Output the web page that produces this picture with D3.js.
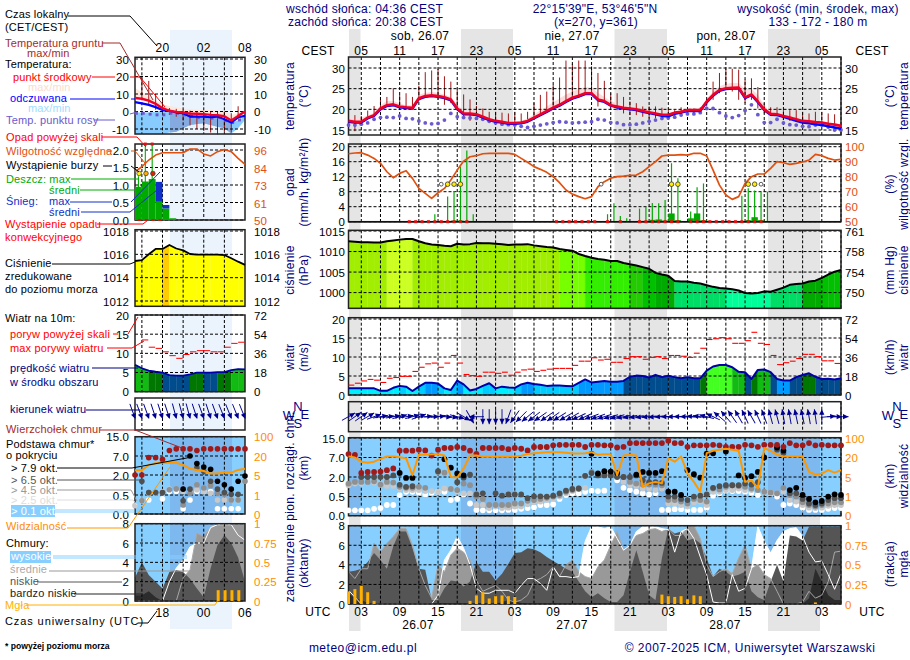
<!DOCTYPE html>
<html><head><meta charset="utf-8">
<script src="https://cdn.jsdelivr.net/npm/d3@7"></script>
<style>html,body{margin:0;padding:0;background:#fff}svg{display:block}text{font-family:"Liberation Sans",Arial,sans-serif;font-size:12px;letter-spacing:.25px}</style>
</head><body><div id="c"></div>
<script>
// ---------- main meteogram: hourly, index 0 = 26.07 01 UTC ----------
const tempMean=[17.2,17,17,18,18.6,20.2,21,21.2,20.7,20.5,20.4,22.7,23.2,23.4,23.2,22.9,22.4,20.2,19,19,18.8,18.2,17.6,17.2,17,16.7,16.7,16.8,17.2,18,18.8,19.6,20.4,21.1,22,22.8,23.3,23.9,23.9,22.4,22,21,20.7,20.4,20.2,20,19.6,19.3,19,18.7,18.7,19.2,19.4,19.8,19.8,19.8,21.9,23.5,24.7,25.1,25.2,25.3,22.9,23.6,21.9,20,18.9,18.8,18.4,18,17.6,17.2,17.1,16.9,16.8,16.5,16.3,16];
const tempApparent=[17,16.8,16.8,17.8,18.4,20,20.8,21,20.5,20.3,20.2,22.5,23,23.2,23,22.7,22.2,20,18.8,18.8,18.6,18,17.4,17,16.8,16.5,16.5,16.6,17,17.8,18.6,19.4,20.2,20.9,21.8,22.6,23.1,23.7,23.7,22.2,21.8,20.9,20.5,20.2,20,19.8,19.4,19.1,18.8,18.4,18.3,18.9,19.2,19.6,19.6,19.6,21.7,23.3,24.5,24.9,25,25.1,22.7,23.4,21.7,19.8,18.7,18.6,18.2,17.7,17.2,16.8,16.6,16.4,16.2,15.9,15.6,15.3];
const tempHigh=[18,18,18,18.5,19.2,21,22,22,21.5,21,21,23.5,24,24.2,24,23.6,23,21.2,19.6,19.4,19.1,18.5,17.9,17.5,17.3,17,17,17.2,17.8,18.8,19.8,20.7,21.7,22.6,23.6,24.3,24.9,25.4,25.2,24,23,22,21.5,21,20.7,20.4,20.1,19.8,19.4,19.1,19,19.5,19.8,20.2,20.2,20.3,22.5,24.3,25.6,26.2,26.4,26.4,25,25,23.5,21,19.4,19.1,18.7,18.3,17.9,17.5,17.3,17.2,17,16.7,16.5,16.2];
const dewPoint=[16.2,16.2,16.4,16.7,17.6,18,18.1,18,18.4,17.8,17.7,17.2,16.7,16.5,16.6,17.4,19,18.2,18,17.9,17.8,17.6,17.1,16.7,16.4,16.3,16.2,15.9,15.6,15.9,16.2,16.5,16.8,17,16.9,16.7,16.8,16.9,17,17.6,17.4,16.8,16.7,16.3,16.3,16.4,16.7,17.1,17.4,17.8,17.9,18.1,18.6,18.9,18.9,19.2,20.2,20.2,19.2,18.4,18,18.5,19.7,21.1,18.7,16.8,16.8,17.6,16.7,16.3,16.2,15.9,15.8,16.2,16.2,15.7,15,15];
const groundMax=[17.6,18.6,18.4,19.7,20.8,22.3,23,25.1,23.5,23.9,23,25.7,29,29.4,29.8,28,26.7,24.7,23.6,22.4,20.8,20.2,19.4,19.4,19.2,19,19.4,19,19.4,21.6,23.5,24.3,25.9,27.7,31.8,31,31.8,31.8,30.4,28.8,26.9,23.9,23.9,23,21.9,21.5,20.7,20.7,20.7,20.4,20.2,19.8,20.5,20.2,20.2,20.5,22.4,26.7,28.8,29.8,29.8,29.6,27.2,27.5,25.4,21.5,20.5,20.5,19.8,19.8,19.8,19.4,19,19.4,19.4,19,18.8,16];
const groundMin=[16,14.7,16.4,18.2,18.6,20.2,21.1,20.7,20.2,20.2,20.2,22.3,23.1,23.2,22.3,21.1,21.5,20.2,18.4,17.2,18.4,18,17.6,16.7,16.7,16.3,16.5,16.8,17.6,17.6,18.6,19.4,20.2,20.7,21.5,22.7,23.1,23.9,23.9,20.7,21.5,20.7,19.8,19,18.6,18.6,18.2,17.8,17.8,17.4,17.4,17.8,18.6,19,19,19,20.7,22.3,23.9,24.7,24.3,22.3,21.5,22.3,20.2,19,18.6,18.6,17.4,17.2,17.4,17,16.7,16.5,16.3,16.1,16,16];
const humidity=[95.3,95.8,96,94.4,92.2,88.9,83.3,79.3,82.2,84,78.9,72.2,68.9,65.6,69.3,72.2,77.8,84.4,90.4,93.3,94,95.3,95.6,95.6,95.6,95.6,94.9,92.2,89.6,86.7,84.9,82.9,80,76,71.1,68.4,66.7,65.3,66.7,73.3,76.7,79,80,80.4,80.9,81.1,83.3,86.7,90,93.8,94.4,94.4,94.7,94.4,95.6,95.6,93.8,84.4,74.4,67.8,64.9,66.7,75.6,80,81.8,81.8,85.6,90,89.3,88.2,88.9,89.8,91.1,94.9,94,92.2,91.1,91.6];
const rainMaxHours=[13,15,16,17,18,19,40,41,42,43,45,46,47,48,49,50,51,53,54,55,61,62,63,64,65];
const rainMaxValues=[2,6.7,8.2,14.7,19,2,2,4.9,1.5,0.9,3.5,4,5,4.9,5.8,15.6,11.6,2.7,9.2,10.2,6.9,8.9,8.3,8,8];
const rainMeanHours=[16,17,45,46,47,48,49,50,51,53,54,55,62,63,64];
const rainMeanValues=[0.3,0.3,0.2,0.2,0.5,0.6,0.3,2.2,0.4,0.9,2.2,0.4,0.4,1.2,0.4];
const convectiveHours=[9,10,11,12,13,14,15,16,17,18,32,33,34,35,36,37,38,40,42,45,46,47,48,49,50,51,53,54,55,56,57,58,59,60,61,62,63,64];
const thunderStrongHours=[15,16,17,50,51,62,63];
const thunderWeakHours=[14,39,64];
const pressure=[1012.5,1012.4,1012.26,1012.26,1012.2,1012.2,1012.5,1012.7,1012.9,1013.06,1013.06,1012.5,1012,1011.7,1011.6,1011.4,1011.3,1011.9,1011.7,1011.8,1012.1,1012,1012,1011.9,1011.8,1011.6,1011.7,1011.7,1011.8,1011.5,1011.3,1011.1,1011,1010.6,1010.4,1010.2,1009.4,1008.9,1008.5,1008.2,1008,1007.7,1007.7,1007.2,1006.9,1006.6,1006.2,1005.8,1004.8,1004.4,1004.1,1002.8,1002.7,1002.7,1002.4,1002.2,1001.8,1001.4,1001.1,1001,1000.8,1000.5,999.9,999.8,999.9,1000.3,1000.2,1000.7,1001.2,1001.9,1002.1,1002.2,1002.7,1002.9,1003.6,1004.4,1005.1,1005.5];
const pressureBands=[7,7,7,7,7,7,8,8,8,8,7,7,7,7,7,7,7,7,7,7,7,7,7,7,7,7,7,7,7,7,7,7,7,6,6,6,6,5,5,5,5,5,5,5,4,4,3,3,2,2,2,1,1,1,1,1,1,1,1,0,0,0,0,0,0,0,1,1,1,1,1,2,2,2,3,3,3];
const wind=[1.75,1.75,1.75,1.75,1.75,1.1,1.1,1.9,2.4,2.2,1.05,2.2,3.2,3.2,3,1.75,1.3,3.8,2.8,1.2,1.6,2.4,3.1,1.75,2.2,2,1.9,2.8,3.2,2.9,2.7,2.4,2.5,2.5,2.4,2.3,3.2,4.1,3.3,3.5,3.7,3.5,3.5,3.7,4.8,5.1,5,4.6,5.3,4.7,5.1,4.7,4.4,4.7,4.4,4.4,6.4,7.5,7.9,7.9,7.3,6.1,6,4.2,6.6,6.7,6,4.2,3.8,3.8,4.7,5.3,5.7,4.8,4.2,4.3,4.1,4.4];
const gust=[2.6,3.1,3.7,4.1,3.9,3.3,4.4,4.6,4.9,4.9,6.2,7.3,8.2,8.4,7.3,8.4,10.4,8.4,5.4,5.1,4.9,6,6,5.7,6,5.2,6,6.6,6.8,6.2,6.5,6.8,7,7,7,7.8,8.9,8.9,9.8,9.2,9.4,8.6,8.6,9.6,10.1,10.1,9.4,9.9,10.1,9.6,10.4,10.4,10.2,9.9,11,12.3,14.6,14.8,15.1,14.8,13.6,13.6,14.3,16.5,13.6,13.3,10.4,8,8.5,8.9,9.6,10.7,10.7,10.1,9,9,8.3];
const windBearing=[60,55,55,60,70,80,85,80,75,80,75,70,85,88,85,95,100,105,120,150,270,180,180,180,180,200,215,225,230,232,235,235,235,238,240,240,245,245,250,250,252,255,255,258,260,262,262,265,265,268,270,270,272,272,275,278,285,295,310,320,325,330,335,330,335,340,345,345,350,350,348,348,350,352,0,85,90,90];
const cloudTop=[8.4,8.1,3.05,3.3,3.3,3.4,3.75,4.2,9.8,9.8,9.8,10.2,9.9,7.8,10.2,10.9,10.9,11.3,10.9,9.8,8.5,10.9,10.9,10.9,10.9,10.4,10.9,10.6,9.9,11.3,11.3,11.3,12,12.2,12.2,12.2,12.2,11.3,12.2,12.2,12,12,11.1,11.4,12.9,12.9,12.9,12.9,12.9,12.9,13.9,12.9,12.9,11.4,12,12,12,12.2,12,11.4,11.4,11.4,12.2,12,11.4,12.2,12.2,12.2,11.4,12.9,12,12,12.9,12,12.2,12,12,12];
const n=null;
const base79=[n,n,n,n,n,n,n,n,3.05,1.93,1.93,n,n,n,n,6.56,4.4,2.9,2.4,n,n,n,n,n,n,n,n,n,n,n,n,n,n,n,n,n,n,n,8.5,2.9,3.5,3.4,3.05,n,n,2.6,3.3,3.05,3.05,3.5,0.875,0.875,0.625,3.75,2.7,1.95,8.6,8.7,n,9.5,n,2.4,1.93,2.2,3.3,7,n,11.1,9.8,1,1.17,0.625,0.44,0.35,0.385,0.5,0.675,0.625];
const base65=[n,n,2,2,2,2,2,2.4,1.4,1.25,1.3,n,n,n,3.5,n,n,1.6,1.95,2.6,0.67,0.75,n,0.75,0.57,0.67,0.67,0.67,0.46,0.52,0.52,0.5,0.57,0.75,0.95,1.08,1.12,2.3,3,2.4,2.4,2.4,2,2,2,2.4,1.75,1.6,1.6,1.55,0.5,0.5,0.44,0.41,0.5,0.57,0.67,1.17,1.3,1.37,1.37,1.37,1.5,1.42,1.6,n,n,10.2,8.8,0.75,0.75,0.44,0.32,0.28,0.32,0.41,0.46,0.46];
const base45=[1.5,1.62,1.62,1.62,1.67,1.42,1.62,1.57,1.25,1.17,1.17,1.25,1.17,n,3.3,3.1,1.08,1,1.5,1.37,0.5,0.44,0.28,0.28,0.28,0.28,0.32,0.32,0.39,0.41,0.44,0.47,0.5,0.62,0.87,1,1.12,2.3,3.3,2.6,2.6,2.6,2.4,2,1.62,1.5,1.42,1.42,1.42,1.37,0.41,0.41,0.37,0.32,0.44,0.41,0.37,1.12,1.05,1.25,1.37,1.32,1.25,1.12,1,0.87,0.8,0.75,1.17,0.62,0.5,0.35,0.28,0.24,0.28,0.32,0.35,0.35];
const base25=[1.37,1.5,1.5,1.67,1.57,1.42,1.32,1.32,1.12,1,1,1,0.92,0.92,0.87,1.12,1.08,0.87,0.75,0.75,0.28,0.28,0.2,0.24,0.2,0.21,0.24,0.24,0.3,0.35,0.37,0.41,0.44,0.5,0.75,0.92,1.08,1.17,n,n,n,n,n,1.62,1.37,1.3,1.12,1.12,1,1.12,0.32,0.32,0.28,0.24,0.35,0.37,0.28,0.87,0.87,1,1,1.12,1,1,n,0.87,0.8,0.75,0.87,0.41,0.37,0.28,0.21,0.2,0.21,0.26,0.28,0.28];
const base01=[0.14,0.14,0.14,0.14,0.18,0.2,0.28,0.28,0.62,0.87,0.87,0.8,0.67,0.8,0.87,0.87,0.41,0.44,0.67,0.32,0.15,0.14,0.14,0.14,0.14,0.15,0.15,0.18,0.2,0.22,0.28,0.28,0.3,0.44,0.62,0.75,0.75,0.87,0.95,0.92,0.95,n,1.75,1.17,1,0.87,0.75,0.67,0.75,0.15,0.15,0.17,0.17,0.15,0.15,0.15,0.21,0.57,0.75,0.95,0.92,0.92,0.87,0.8,0.62,0.87,0.75,0.5,0.28,0.32,0.28,0.21,0.15,0.15,0.15,0.18,0.2,0.2];
const visibility=[24.2,20,16.8,16,16.8,18.9,24.2,24.2,21.4,19.5,6.3,31,31,33.8,33.8,28.3,5,4.9,11.6,28.3,28.3,22.8,22.8,22.8,22.8,22.8,24.2,26.9,33.8,37.9,39.3,42,42,42,39.3,36.6,36.6,37.9,42,31,33.8,33.8,6.3,28.3,31,28.3,3,3.7,4,3.7,19.5,16.8,24.2,7.6,4,2,37.9,47.6,51.7,55.9,51.7,47.6,4,4.3,2.7,58.6,47.6,31,24.2,24.2,24.2,24.2,9,6.9,7.6,10.3,8.4,10.3];
const cloudHigh=[1.4,0.7,0,0,0,0,0,0,0,0,0,0,0,0,0.9,4.5,5.5,6.9,5.7,4,1.6,1.1,1.1,1.4,1.4,1.4,1.1,1.9,2.6,2.6,2.1,1.4,3.8,2.8,2.8,2.7,2.8,6.4,7.9,7.9,7.7,7.9,6.7,5.5,6,7.4,7.9,7.9,7.9,7.7,7.6,5.3,7.4,7.7,6.7,4.8,3,0.2,0.1,0.1,3,1.3,1.6,3.6,7.9,6.4,5.2,6.5,7.4,7.7,7.8,6.9,5.3,4.3,4.4,3,1.5,3.1];
const cloudMid=[3.3,2.6,3.6,3.6,6.2,5.3,6.2,6.9,7.7,7.7,6,3.6,1.9,0.6,4,3.3,5,5.7,5.3,4.5,2.4,1.3,1.6,1.9,1.3,0.4,0.2,0.4,0.9,2.3,2.6,3,3.8,2.8,4,4.5,3.3,2.8,2.6,3.8,4.5,6,7.4,5.5,6,7,7.2,7.6,7.7,7.4,7.7,7,7,7.9,8,6.7,4,2.8,3.3,3.6,3.1,4.7,6,3.6,4,3,2.6,1.3,0,0,0,0.2,1.3,0.6,0.9,2.3,5.3,5.4];
const cloudLow=[3.3,3.4,3.6,4.3,5.2,4.5,3.6,5.9,7.4,7.4,5.7,3.6,3.5,0.4,0.4,1.6,2.4,2.3,1.8,2.3,4.3,3.3,3.3,2.4,3.1,4.1,5.2,5.3,5.7,5.6,5.3,4.8,4.4,4,3.6,3.3,2.3,1.3,0.7,1.1,0.6,0.2,0.2,0.9,3.3,5.5,3.3,0.9,0.4,4.7,7.7,7.2,7.4,6.5,6.7,6.2,4.7,2.8,3.6,3.3,2.8,3,3.3,1.3,0.7,0.4,2.3,4,2.3,7,6.9,6.5,7.9,7.9,7.9,7.9,7.9,7.9];
const cloudVeryLow=[1.1,0.6,0.4,0.1,0,0,0,0,0,0,0,0,0,0,0,0,0,0,0,0,0,0,0,0,0.2,0.4,0.3,0.1,0,0,0,0,0,0,0,0,0,0,0,0,0,0,0,0,0,0,0,0,0,0,0,0,0,0,0,0,0,0,0,0,0,0,0,0,0,0,0,0,0,0,0,0,0.6,3.6,2.3,0.9,0.4,0.4];
const fogHours=[0,1,2,3,4,19,20,21,22,23,24,25,26,49,50,51,52,53,54,55,73];
const fogValues=[0.16,0.19,0.23,0.15,0.04,0.04,0.11,0.15,0.07,0.1,0.11,0.1,0.09,0.12,0.1,0.09,0.1,0.06,0.11,0.1,0.02];
// ---------- legend meteogram: hourly, index 0 = 14 UTC ----------
const sTemp=[7.7,7.3,6.2,4.4,1.9,0.4,-0.2,-0.6,-1.2,-1.3,-1.5,-1.9,-2.1,-2.7,-5.2,-2.5,0];
const sApparent=[5.4,4.6,3.8,2.5,0.8,0.4,-0.6,-1,-2.9,-2.9,-2.9,-3.3,-2.9,-4.4,-6.3,-3.3,-2.5];
const sDew=[-1,-1,-1.5,-1.9,-1.9,-1,-1,-1.9,-2.5,-3.5,-2.9,-3.8,-3.3,-5.2,-6.3,-4.8];
const sPinkTop=[13.5,11,8.6,6.4,4.2,3.2,2.5,1.6,1.3,1,0.9,0.7,0.5,0,-2,-1,0];
const sBlueTop=[-0.6,-0.6,-0.6,-0.2,0.6,-0.4,-1,-1.5,-1.9,-2.5,-2.9,-3.4,-3.8,-5,-6.7,-5,-2.9];
const sBlueBottom=[-13,-13,-13,-13,-13,-12,-11.5,-9.6,-7.7,-7.2,-6.7,-7.7,-8.7,-9.6,-12.5,-9.6,-4.8];
const sGroundHours=[1,2,3,4,5,6,7,8,9,10,11,12,13,14,15];
const sGroundMax=[20,17.5,10,7.5,2,1.5,1,0.5,0,0,0,0,0,-1,3];
const sGroundMin=[8,4,1,0,-2,-3,-5,-8,-10,-11,-12,-13,-12,-12,-3];
const sHumidity=[81.7,85,89.4,92.7,94.2,94.2,94.2,94.2,96.7,96.7,93.4,92.1,94.9,96.4,94.9,90.5,86.6];
const sRain=[0.95,1.1,1.17,0.52,0.33,0.05];
const sSnow=[0,0,0,0.57,0.1,0];
const sRainMaxHours=[0,1,2];
const sRainMaxValues=[1.25,2.17,2.17];
const sOverflowHours=[1,2];
const sThunderHours=[0.6,1.6,2.6];
const sPressure=[1015.43,1015.5,1016,1016.46,1016.46,1016.8,1016.5,1016.34,1016.03,1015.97,1015.97,1015.97,1015.97,1015.94,1015.66,1015.37,1015.1];
const sPressureBands=[0,0,0,0,1,0,0,0,0,0,0,0,0,0,0,0];
const sWind=[7,6.1,5.5,5.2,5,4.3,4.2,4.2,4.5,5,5,5,5.1,5.1,5.6,5.9,5.8];
const sWindBands=[2,2,1,1,0,0,0,0,1,1,0,0,1,1,2,2];
const sGust=[n,13.5,11.6,11.3,10.4,9.4,8.7,9.7,10.4,10.7,10.7,10.4,10.4,11.6,12.6,12.9];
const sBearing=[160,160,160,162,162,162,165,165,165,162,160,162,160,158,158,158,158];
const sTop=[2,2,6.56,6.56,6.1,9.3,9.95,9.95,9.95,9.3,9.95,9.95,9.95,9.95,9.95,9.95,9.95];
const s79=[n,n,n,n,n,n,n,0.94,7,5,4.1,3.5,1.53,1.27,0.94,1.53,1.92];
const s65=[n,1.53,0.68,0.68,0.68,n,n,0.35,0.94,3.9,3,1.53,0.94,0.68,0.55,0.55,n];
const s45=[n,0.35,0.68,0.68,0.68,0.89,0.96,0.24,0.63,1.27,1.02,1.2,0.63,0.55,0.37,0.37,1.53];
const s25=[0.22,0.37,0.63,0.63,0.76,0.94,0.94,0.76,0.76,0.89,0.76,0.63,0.37,0.37,0.37,0.37,n];
const s01=[n,0.35,0.37,n,0.4,0.76,0.76,0.14,0.37,0.76,0.76,0.76,0.14,0.14,0.14,0.14,n];
const sVisibility=[8.7,8.7,12.9,14.2,14.7,14.7,14.7,12.9,10,9,8.2,6.1,6.1,6.9,6.9,9,10];
const sHigh=[0,0,0,0,0,2,3.4,4.3,5.6,6,6,7.6,7.9,7.9,7.9,6.8,6.3];
const sMid=[0,0,0,0,0,0,0,2.4,3.2,7,6.7,7.6,7.9,7.9,7.9,7.9,7.9];
const sLow=[2.4,4,2.7,2,1.3,3,3.2,3,2.3,1.3,0.4,3.4,5.8,6.8,6,4.5,2];
const sVeryLow=[0.6,0.6,1,0.4,0,0,0,0,0,0,0,0,0,0,0,0,0];
const sFogHours=[12.1,13.1,14.1,15.1];
const sFogValues=[0.14,0.14,0.14,0.14];
// ---------- tick labels ----------
const ticksTemp=[30,25,20,15], ticksRain=[20,16,12,8,4,0], ticksHum=[100,90,80,70,60,50];
const ticksPress=[1015,1010,1005,1000], ticksPressMm=["761","758","754","750"];
const ticksWind=[20,15,10,5,0], ticksWindKmh=["72","54","36","18","0"];
const ticksBase=[15,7,2,0.5,0], labelsBase=["15.0","7.0","2.0","0.5","0.0"], labelsVis=["100","20","5","1","0"];
const ticksCloud=[8,6,4,2,0], labelsFog=["1","0.75","0.5","0.25","0"];
const sTicksTemp=[30,20,10,0,-10], sTicksRain=[2,1.5,1,0.5,0], sLabelsRain=["2.0","1.5","1.0","0.5","0.0"], sLabelsHum=["96","84","73","61","50"];
const sTicksPress=[1018,1016,1014,1012];
const hoursCEST=["05","11","17","23","05","11","17","23","05","11","17","23","05"];
const hoursUTC=["03","09","15","21","03","09","15","21","03","09","15","21","03"];
const dayLabelsTop=["sob, 26.07","nie, 27.07","pon, 28.07"], dayLabelsBottom=["26.07","27.07","28.07"];

const NAVY="#000080",BROWN="#a52a2a",RED="#ff0000",HUM="#e0500f",ORANGE="#ff8c00",GREEN="#00aa00",SKY="#87cfff",SKYN="#7db9ee",PURPLE="#6a5acd",FOG="#ffb000";
const svg=d3.select("#c").append("svg").attr("width",910).attr("height",660);
const txt=(x,y,s,c="#000",a="start",extra={})=>{const t=svg.append("text").attr("x",x).attr("y",y).attr("fill",c).attr("text-anchor",a).text(s);for(const k in extra)t.style(k,extra[k]);return t;};
const rot=(x,y,s)=>svg.append("text").attr("transform",`translate(${x},${y}) rotate(-90)`).attr("fill",NAVY).attr("text-anchor","middle").style("font-size","12px").style("letter-spacing","0.3px").text(s);
const xM=d3.scaleLinear([0,77],[348.5,841]), xS=d3.scaleLinear([0,16],[135,245]);

// night bands
[[349,360.5],[461,513],[614.5,667],[768,820]].forEach(b=>svg.append("rect").attr("x",b[0]).attr("y",29).attr("width",b[1]-b[0]).attr("height",602).attr("fill","#e5e5e5"));
svg.append("rect").attr("x",170).attr("y",30).attr("width",62).attr("height",599).attr("fill","#ebf3fc");

function yScale(dom,rng){return d3.scaleLinear(dom,rng);}
function frame(x,top,bot,ys,tv,vgrid){
  const g=svg.append("g");
  const [x0,x1]=x.range();
  vgrid.forEach(v=>g.append("line").attr("x1",x(v)).attr("x2",x(v)).attr("y1",top).attr("y2",bot).attr("stroke","#000").attr("stroke-dasharray","3,2"));
  tv.forEach(v=>g.append("line").attr("x1",x0).attr("x2",x1).attr("y1",ys(v)).attr("y2",ys(v)).attr("stroke","#000").attr("stroke-dasharray","3,2"));
  g.append("rect").attr("x",x0).attr("y",top).attr("width",x1-x0).attr("height",bot-top).attr("fill","none").attr("stroke","#222").attr("stroke-width",1.5);
}
function axisOn(side,xp,scale,vals,fmt,color){
  const ax=(side==="l"?d3.axisLeft(scale):d3.axisRight(scale)).tickValues(vals).tickSize(0).tickPadding(0).tickFormat((d,i)=>fmt?fmt[i]:d);
  const g=svg.append("g").attr("transform",`translate(${xp},0)`).call(ax);
  g.select(".domain").remove();
  g.selectAll("text").attr("fill",color||"#000").style("font-size","11.5px").style("letter-spacing","0.1px").attr("dy","0.35em");
}
const mv=d3.range(2,78,3), sv=[1,4,7,10,13];
const valid=d=>d!=null;
function lineOf(x,y,arr,color,w,idx){
  const L=d3.line().defined(d=>valid(arr[d])).x(d=>x(d)).y(d=>y(arr[d]));
  svg.append("path").attr("d",L(idx||d3.range(arr.length))).attr("fill","none").attr("stroke",color).attr("stroke-width",w).attr("stroke-linejoin","round");
}
function areaOf(x,y,top,bot,color,clip){
  const A=d3.area().x(d=>x(d)).y0(d=>typeof bot==="number"?y(bot):y(bot[d])).y1(d=>y(top[d]));
  const p=svg.append("path").attr("d",A(d3.range(top.length))).attr("fill",color);
  if(clip)p.attr("clip-path",clip);
}
function strips(x,y,arr,colorFn,base){
  d3.range(arr.length-1).forEach(i=>{
    const A=d3.area().x(d=>x(d)).y0(y(base)).y1(d=>y(arr[d]));
    svg.append("path").attr("d",A([i,i+1])).attr("fill",colorFn(i)).attr("stroke",colorFn(i)).attr("stroke-width",.3);
  });
}
function dots(x,y,arr,color,r){
  svg.append("g").selectAll("circle").data(d3.range(arr.length).filter(i=>valid(arr[i]))).join("circle")
    .attr("cx",i=>x(i)).attr("cy",i=>y(arr[i])).attr("r",r).attr("fill",color);
}
function vbars(x,y,lo,hi,color,w){
  svg.append("g").selectAll("line").data(d3.range(lo.length)).join("line")
    .attr("x1",i=>x(i)).attr("x2",i=>x(i)).attr("y1",i=>y(lo[i])).attr("y2",i=>y(hi[i])).attr("stroke",color).attr("stroke-width",w);
}
svg.append("clipPath").attr("id","nightClip").append("rect").attr("x",170).attr("y",57).attr("width",62).attr("height",77);

// ===== main panel 1: temperature
const yT=yScale([15,30],[130,68]);
areaOf(xM,yT,tempHigh,tempApparent,"#fbdcdc");
vbars(xM,yT,groundMin,groundMax,"#a01818",1);
frame(xM,57,135,yT,ticksTemp,mv);
dots(xM,yT,dewPoint,PURPLE,1.9);
lineOf(xM,yT,tempApparent,"#0000ff",2.4);
lineOf(xM,yT,tempMean,"#f00028",2.6);
axisOn("l",345,yT,ticksTemp); axisOn("r",845,yT,ticksTemp);

// ===== main panel 2: precipitation + humidity
const yR=yScale([0,20],[221.7,146.7]), yH=yScale([50,100],[221.7,146.7]);
frame(xM,144,221.7,yR,ticksRain,mv);
svg.append("g").selectAll("rect").data(rainMeanHours).join("rect").attr("x",d=>xM(d)).attr("width",xM(1)-xM(0)).attr("y",(d,i)=>yR(rainMeanValues[i])).attr("height",(d,i)=>yR(0)-yR(rainMeanValues[i])).attr("fill",GREEN);
svg.append("g").selectAll("line").data(rainMaxHours).join("line").attr("x1",d=>xM(d+.5)).attr("x2",d=>xM(d+.5)).attr("y1",yR(0)).attr("y2",(d,i)=>yR(rainMaxValues[i])).attr("stroke",GREEN).attr("stroke-width",1.2);
svg.append("line").attr("x1",xM(0)).attr("x2",xM(77)).attr("y1",yR(0)).attr("y2",yR(0)).attr("stroke","#111").attr("stroke-width",1.4);
svg.append("g").selectAll("rect").data(convectiveHours).join("rect").attr("x",d=>xM(d+.5)-1.5).attr("y",yR(0)-1.5).attr("width",3).attr("height",3).attr("fill","#e01010");
lineOf(xM,yH,humidity,HUM,1.7);
const thunder=(hrs,fill,r)=>svg.append("g").selectAll("circle").data(hrs).join("circle").attr("cx",d=>xM(d+.5)).attr("cy",yR(10)).attr("r",r).attr("fill",fill).attr("stroke","#333").attr("stroke-width",.8);
thunder(thunderWeakHours,"#fff",1.9); thunder(thunderStrongHours,"#ffee00",2.3);
axisOn("l",345,yR,ticksRain); axisOn("r",845,yH,ticksHum,null,HUM);

// ===== main panel 3: pressure
const yP=yScale([1015,1000],[231,292.6]);
const pressPal=["#00ff99","#00dd66","#00aa00","#00c000","#22cc00","#33ee00","#77ff00","#a2ee00","#ccff22"];
strips(xM,yP,pressure,i=>pressPal[pressureBands[i]],996);
frame(xM,230.3,308.3,yP,ticksPress,mv);
lineOf(xM,yP,pressure,"#000",2);
axisOn("l",345,yP,ticksPress); axisOn("r",845,yP,ticksPress,ticksPressMm);

// ===== main panel 4: wind
const yW=yScale([0,20],[395,319]);
const windPal=d3.scaleThreshold().domain([2.2,3,4.1,5.2,6,6.8]).range(["#00eeff","#00ccff","#0099ff","#004c8c","#007700","#11bb11","#44ff22"]);
strips(xM,yW,wind,i=>windPal((wind[i]+wind[i+1])/2),0);
frame(xM,317.7,395,yW,ticksWind,mv);
lineOf(xM,yW,wind,"#0000a8",2);
svg.append("g").selectAll("line").data(gust).join("line").attr("x1",(d,i)=>xM(i)).attr("x2",(d,i)=>xM(i+1)-.6).attr("y1",d=>yW(d)).attr("y2",d=>yW(d)).attr("stroke",RED).attr("stroke-width",1.1);
axisOn("l",345,yW,ticksWind); axisOn("r",845,yW,ticksWind,ticksWindKmh);

// ===== wind direction
function arrows(x,yc,bear,tailOnly){
  const g=svg.append("g");
  bear.forEach((b,i)=>{
    const a=g.append("g").attr("transform",`translate(${x(i)},${yc}) rotate(${b})`);
    a.append("line").attr("x1",0).attr("x2",0).attr("y1",tailOnly?15:7.5).attr("y2",tailOnly?0:-7.5).attr("stroke","#000090").attr("stroke-width",.9);
    const tip=tailOnly?-1:-7.5;
    a.append("path").attr("d",`M0,${tip}L-2.6,${tip+5.5}L2.6,${tip+5.5}Z`).attr("fill","#000090");
  });
}
d3.range(2,78,3).forEach(v=>svg.append("line").attr("x1",xM(v)).attr("x2",xM(v)).attr("y1",401.7).attr("y2",431.7).attr("stroke","#000").attr("stroke-dasharray","3,2"));
svg.append("rect").attr("x",348.5).attr("y",401.7).attr("width",492.5).attr("height",30).attr("fill","none").attr("stroke","#222").attr("stroke-width",1.5);
arrows(xM,416.7,windBearing,false);
function compass(cx){
  const f={"font-size":"13px"};
  txt(cx-9,420,"W",NAVY,"middle",f); txt(cx,411,"N",NAVY,"middle",f);
  txt(cx+7,419,"E",NAVY,"middle",f); txt(cx,428,"S",NAVY,"middle",f);
}
compass(298); compass(897);

function nightSky(x,top,bot,xs){
  const [x0,x1]=x.range();
  svg.append("rect").attr("x",x0).attr("y",top).attr("width",x1-x0).attr("height",bot-top).attr("fill",SKY);
  xs.forEach(b=>svg.append("rect").attr("x",b[0]).attr("y",top).attr("width",b[1]-b[0]).attr("height",bot-top).attr("fill",SKYN));
}
const nightsM=[[349,360.5],[461,513],[614.5,667],[768,820]], nightsS=[[170,232]];
// ===== main panel 6
const yB=yScale([0,0.5,2,7,15],[515.7,496.6,477,457.5,438]);
nightSky(xM,437.7,515.7,nightsM);
frame(xM,437.7,515.7,yB,ticksBase,mv);
dots(xM,yB,base01,"#fff",2.9); dots(xM,yB,base25,"#c8c8c8",2.9); dots(xM,yB,base45,"#909090",2.9);
dots(xM,yB,base65,"#505050",2.9); dots(xM,yB,base79,"#000",2.9); dots(xM,yB,cloudTop,"#a01a1a",2.9);
const yV=yScale([0,1,5,20,100],[515.7,496.6,477,457.5,438]);
lineOf(xM,yV,visibility,"#ff9800",2);
axisOn("l",345,yB,ticksBase,labelsBase); axisOn("r",845,yV,[100,20,5,1,0],labelsVis,ORANGE);

// ===== main panel 7
const yC=yScale([0,8],[604,525.7]), yF=yScale([0,1],[604,525.7]);
nightSky(xM,525.7,604,nightsM);
areaOf(xM,yC,cloudHigh,0,"#fff");
areaOf(xM,yC,cloudMid,0,"#999");
areaOf(xM,yC,cloudLow,0,"#555");
areaOf(xM,yC,cloudVeryLow,0,"#2c2c2c");
lineOf(xM,yC,cloudMid,"#a8a8a8",1);
lineOf(xM,yC,cloudHigh,"#fff",1);
frame(xM,525.7,604,yC,ticksCloud,mv);
svg.append("g").selectAll("rect").data(fogHours).join("rect").attr("x",d=>xM(d)-1.5).attr("width",3).attr("y",(d,i)=>yF(fogValues[i])).attr("height",(d,i)=>yF(0)-yF(fogValues[i])).attr("fill",FOG);
axisOn("l",345,yC,ticksCloud); axisOn("r",845,yF,[1,.75,.5,.25,0],labelsFog,ORANGE);

// ===== small panel 1
const ySt=yScale([-10,30],[129,59]);
areaOf(xS,ySt,sPinkTop,sTemp,"#fde6da");
areaOf(xS,ySt,sBlueTop,sBlueBottom,"#88ccff");
areaOf(xS,ySt,sBlueTop,sBlueBottom,"#84aadf","url(#nightClip)");
svg.append("g").selectAll("line").data(sGroundHours).join("line").attr("x1",d=>xS(d)).attr("x2",d=>xS(d)).attr("y1",(d,i)=>ySt(sGroundMax[i])).attr("y2",(d,i)=>ySt(sGroundMin[i])).attr("stroke","#a01818");
frame(xS,57.3,134,ySt,sTicksTemp,sv);
svg.append("g").selectAll("rect").data(d3.range(sDew.length)).join("rect").attr("x",i=>xS(i+.2)-1.5).attr("y",i=>ySt(sDew[i])-1.5).attr("width",3).attr("height",3).attr("fill",PURPLE);
lineOf(xS,ySt,sApparent,"#0000ff",2.2);
lineOf(xS,ySt,sTemp,"#f00028",2.4);
axisOn("l",129,ySt,sTicksTemp); axisOn("r",254,ySt,sTicksTemp);

// ===== small panel 2
const ySr=yScale([0,2],[220,150]), ySh=yScale([50,96],[220,150]);
frame(xS,144,220,ySr,sTicksRain,sv);
svg.append("g").selectAll("rect").data(sRain).join("rect").attr("x",(d,i)=>xS(i)).attr("width",xS(1)-xS(0)).attr("y",d=>ySr(d)).attr("height",d=>ySr(0)-ySr(d)).attr("fill",GREEN);
svg.append("g").selectAll("rect").data(sSnow).join("rect").attr("x",(d,i)=>xS(i)).attr("width",xS(1)-xS(0)).attr("y",(d,i)=>ySr(d+sRain[i])).attr("height",d=>ySr(0)-ySr(d)).attr("fill","#1030c8");
svg.append("g").selectAll("line").data(sRainMaxHours).join("line").attr("x1",d=>xS(d+.5)).attr("x2",d=>xS(d+.5)).attr("y1",ySr(0)).attr("y2",(d,i)=>ySr(sRainMaxValues[i])).attr("stroke",GREEN).attr("stroke-width",1.1);
svg.append("g").selectAll("rect").data(sOverflowHours).join("rect").attr("x",d=>xS(d+.5)-1.5).attr("y",ySr(2.17)-1.5).attr("width",3).attr("height",3).attr("fill","#e01010");
svg.append("g").selectAll("rect").data(d3.range(4)).join("rect").attr("x",d=>xS(d+.4)).attr("y",ySr(0)-1).attr("width",3).attr("height",2).attr("fill","#e01010");
svg.append("g").selectAll("circle").data(sThunderHours).join("circle").attr("cx",d=>xS(d)).attr("cy",ySr(1.33)).attr("r",2.3).attr("stroke","#333").attr("stroke-width",.7).attr("fill",(d,i)=>["#ffee00","#ffaa00","#dd2200"][i]);
lineOf(xS,ySh,sHumidity,HUM,1.6);
axisOn("l",129,ySr,sTicksRain,sLabelsRain); axisOn("r",254,ySh,[96,84,73,61,50],sLabelsHum,HUM);

// ===== small panel 3
const ySp=yScale([1012,1018],[301,231]);
strips(xS,ySp,sPressure,i=>["#ffff00","#ffcc00"][sPressureBands[i]],1011.55);
frame(xS,229.7,306.3,ySp,sTicksPress,sv);
lineOf(xS,ySp,sPressure,"#000",1.8);
axisOn("l",129,ySp,sTicksPress); axisOn("r",254,ySp,sTicksPress);

// ===== small panel 4
const ySw=yScale([0,20],[391.7,315]);
strips(xS,ySw,sWind,i=>["#004c8c","#007700","#11bb11"][sWindBands[i]],0);
frame(xS,315,391.7,ySw,ticksWind,sv);
lineOf(xS,ySw,sWind,"#0000a8",1.8);
svg.append("g").selectAll("line").data(d3.range(sGust.length).filter(i=>valid(sGust[i]))).join("line").attr("x1",i=>xS(i)).attr("x2",i=>xS(i+1)-.5).attr("y1",i=>ySw(sGust[i])).attr("y2",i=>ySw(sGust[i])).attr("stroke",RED).attr("stroke-width",1);
axisOn("l",129,ySw,ticksWind); axisOn("r",254,ySw,ticksWind,ticksWindKmh);

// ===== small panel 5
sv.forEach(v=>svg.append("line").attr("x1",xS(v)).attr("x2",xS(v)).attr("y1",398).attr("y2",430).attr("stroke","#000").attr("stroke-dasharray","3,2"));
svg.append("rect").attr("x",135).attr("y",398).attr("width",110).attr("height",32).attr("fill","none").attr("stroke","#222").attr("stroke-width",1.5);
arrows(xS,418,sBearing,true);

// ===== small panel 6
const ySb=yScale([0,0.5,2,7,15],[514,495,475,456,436.7]), ySv=yScale([0,1,5,20,100],[514,495,475,456,436.7]);
nightSky(xS,436.7,514,nightsS);
frame(xS,436.7,514,ySb,ticksBase,sv);
dots(xS,ySb,s01,"#fff",2.8); dots(xS,ySb,s25,"#c8c8c8",2.8); dots(xS,ySb,s45,"#909090",2.8);
dots(xS,ySb,s65,"#505050",2.8); dots(xS,ySb,s79,"#000",2.8); dots(xS,ySb,sTop,"#a01a1a",2.8);
lineOf(xS,ySv,sVisibility,"#ff9800",2);
axisOn("l",129,ySb,ticksBase,labelsBase); axisOn("r",254,ySv,[100,20,5,1,0],labelsVis,ORANGE);

// ===== small panel 7
const ySc=yScale([0,8],[601,523.7]), ySf=yScale([0,1],[601,523.7]);
nightSky(xS,523.7,601,nightsS);
areaOf(xS,ySc,sHigh,0,"#fff"); areaOf(xS,ySc,sMid,0,"#999"); areaOf(xS,ySc,sLow,0,"#555"); areaOf(xS,ySc,sVeryLow,0,"#2c2c2c");
lineOf(xS,ySc,sMid,"#a8a8a8",1); lineOf(xS,ySc,sHigh,"#fff",1);
frame(xS,523.7,601,ySc,ticksCloud,sv);
svg.append("g").selectAll("rect").data(sFogHours).join("rect").attr("x",d=>xS(d)-1.5).attr("width",3).attr("y",(d,i)=>ySf(sFogValues[i])).attr("height",(d,i)=>ySf(0)-ySf(sFogValues[i])).attr("fill",FOG);
axisOn("l",129,ySc,ticksCloud); axisOn("r",254,ySf,[1,.75,.5,.25,0],labelsFog,ORANGE);

// ===== header / footer text
txt(286,13,"wschód słońca: 04:36 CEST",NAVY); txt(288,26,"zachód słońca: 20:38 CEST",NAVY);
txt(595,13,"22°15'39\"E, 53°46'5\"N",NAVY,"middle"); txt(596,26,"(x=270,  y=361)",NAVY,"middle");
txt(818,13,"wysokość (min, środek, max)",NAVY,"middle"); txt(818,26,"133 - 172 - 180 m",NAVY,"middle");
dayLabelsTop.forEach((s,i)=>txt([420,572,726][i],40,s,"#000","middle"));
txt(318,55,"CEST","#000","middle"); txt(872,55,"CEST","#000","middle");
hoursCEST.forEach((s,i)=>txt(xM(2+i*6),55,s,"#000","middle"));
txt(318,616,"UTC","#000","middle"); txt(872,616,"UTC","#000","middle");
hoursUTC.forEach((s,i)=>txt(xM(2+i*6),616,s,"#000","middle"));
dayLabelsBottom.forEach((s,i)=>txt([418,572,725][i],629,s,"#000","middle"));
txt(363,652,"meteo@icm.edu.pl",NAVY,"middle",{"letter-spacing":"0.5px"}); txt(750,652,"© 2007-2025 ICM, Uniwersytet Warszawski",NAVY,"middle",{"letter-spacing":"0.5px"});
["20","02","08"].forEach((s,i)=>txt(xS(4+i*6),52,s,"#000","middle"));
["18","00","06"].forEach((s,i)=>txt(xS(4+i*6),617,s,"#000","middle"));

// rotated axis titles
[["temperatura",96,"(°C)",96],["opad",182,"(mm/h, kg/m²/h)",182],["ciśnienie",270,"(hPa)",270],["wiatr",357,"(m/s)",357],["pion. rozciągł. chm.",466,"(km)",468],["zachmurzenie",563,"(oktanty)",563]].forEach(d=>{rot(294,d[1],d[0]);rot(308,d[3],d[2]);});
[["temperatura",96,"(°C)"],["wilgotność wzgl.",184,"(%)"],["ciśnienie",270,"(mm Hg)"],["wiatr",357,"(km/h)"],["widzialność",476,"(km)"],["mgła",564,"(frakcja)"]].forEach(d=>{rot(894,d[1],d[2]);rot(908,d[1],d[0]);});

// legend labels
const labels=[[5,18,"Czas lokalny","#000"],[5,31,"(CET/CEST)","#000"],[5,47,"Temperatura gruntu",BROWN],[27,57,"max/min",BROWN],[5,68,"Temperatura:","#000"],[13,81,"punkt środkowy",RED],[28,91,"max/min","#fddccc"],[10,102,"odczuwana","#0000ff"],[28,112,"max/min","#a0dcff"],[6,124,"Temp. punktu rosy",PURPLE],
[6,141,"Opad powyżej skali",RED],[6,155,"Wilgotność względna",HUM],[6,169,"Wystąpienie burzy","#000"],[6,183,"Deszcz: max",GREEN],[49,194,"średni",GREEN],[6,205,"Śnieg:","#1030c8"],[49,205,"max","#1030c8"],[49,216,"średni","#1030c8"],[5,228,"Wystąpienie opadu",RED],[5,241,"konwekcyjnego",RED],
[5,267,"Ciśnienie","#000"],[5,280,"zredukowane","#000"],[5,293,"do poziomu morza","#000"],[5,322,"Wiatr na 10m:","#000"],[10,338,"poryw powyżej skali",RED],[10,352,"max porywy wiatru",RED],[10,372,"prędkość wiatru",NAVY],[10,386,"w środku obszaru",NAVY],[10,413,"kierunek wiatru",NAVY],[6,433,"Wierzchołek chmur",BROWN],
[6,448,"Podstawa chmur*","#000"],[6,459,"o pokryciu","#000"],[11,472,"> 7.9 okt.","#000"],[11,484,"> 6.5 okt.","#555"],[11,494,"> 4.5 okt.","#999"],[11,504,"> 2.5 okt.","#ddd"],[6,530,"Widzialność",ORANGE],[6,547,"Chmury:","#000"],[10,573,"średnie","#aaa"],[10,585,"niskie","#555"],[10,597,"bardzo niskie","#222"],[5,609,"Mgła",FOG]];
svg.append("rect").attr("x",11).attr("y",505).attr("width",44).attr("height",12).attr("fill",SKY);
svg.append("rect").attr("x",10).attr("y",551).attr("width",41).attr("height",12).attr("fill",SKY);
const small={"font-size":"11px","letter-spacing":"0.15px"};
labels.forEach(l=>txt(l[0],l[1],l[2],l[3],"start",small));
txt(11,515,"> 0.1 okt.","#fff","start",small); txt(11,560,"wysokie","#fff","start",small);
txt(5,625,"Czas uniwersalny (UTC)","#000","start",{"font-size":"11px","letter-spacing":"0.9px"});
txt(5,649,"* powyżej poziomu morza","#000","start",{"font-size":"8.6px","font-weight":"bold","letter-spacing":"0"});

// pointer lines
const pointers=[
[[[68,16],[130,16],[157,46]],"#000"],[[[102,43],[120,43],[153,100]],BROWN],[[[92,77],[115,77]],RED],[[[130,77],[140,77],[165,107]],RED],[[[70,99],[115,99]],"#0000ff"],[[[131,99],[135,99]],"#0000ff"],[[[94,120],[115,120]],PURPLE],[[[130,114],[137,112]],PURPLE],
[[[102,137],[137,137],[146,147]],RED],[[[106,151],[112,151]],HUM],[[[131,151],[135,151],[145,163]],HUM],[[[103,166],[112,166]],"#000"],[[[131,166],[139,172]],"#000"],[[[71,179],[138,179]],GREEN],[[[80,190],[135,190]],GREEN],[[[70,202],[112,202]],"#1030c8"],[[[131,202],[160,172]],"#1030c8"],[[[81,212],[130,212],[157,190]],"#1030c8"],[[[97,224],[143,224],[148,220]],RED],
[[[52,264],[130,264],[135,262]],"#000"],[[[113,334],[118,334]],RED],[[[128,334],[138,317]],RED],[[[107,348],[132,348],[144,341]],RED],[[[92,368],[138,368]],NAVY],[[[86,410],[140,410]],NAVY],[[[100,430],[135,430],[182,448]],BROWN],
[[[57,468],[132,468],[192,457]],"#000"],[[[57,480],[140,480]],"#555"],[[[57,490],[131,490],[137,501]],"#999"],[[[57,500],[133,500],[137,505]],"#ddd"],[[[55,510],[135,510]],SKY],[[[55,512],[135,512]],SKY],[[[67,528],[128,528],[170,467]],"#ff9800"],
[[[53,556],[187,556]],SKY],[[[53,558],[187,558]],SKY],[[[49,571],[193,571]],"#999"],[[[37,582],[122,582]],"#555"],[[[74,594],[143,594]],"#222"],[[[26,605],[215,605],[218,600]],FOG],[[[138,623],[148,623],[157,611]],"#000"]];
pointers.forEach(p=>svg.append("path").attr("d",d3.line()(p[0])).attr("fill","none").attr("stroke",p[1]).attr("stroke-width",1));
</script></body></html>
